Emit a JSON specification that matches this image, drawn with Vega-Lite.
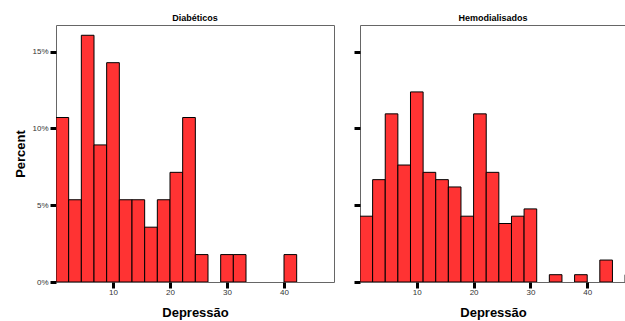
{
  "$schema": "https://vega.github.io/schema/vega-lite/v6.json",
  "padding": {"left": 14, "top": 13, "right": 0, "bottom": 0},
  "background": "white",
  "spacing": 17,
  "config": {
    "font": "Liberation Sans",
    "view": {"stroke": "#666666", "strokeWidth": 1},
    "axis": {"grid": false, "domain": false, "tickColor": "black", "tickWidth": 3, "tickSize": 6, "labelFont": "Liberation Sans", "labelFontSize": 8, "labelColor": "#333333", "titleFont": "Liberation Sans", "titleFontSize": 13, "titleFontWeight": "bold", "titleColor": "black"},
    "title": {"font": "Liberation Sans", "fontSize": 9, "fontWeight": "bold", "color": "black", "offset": 2}
  },
  "datasets": {
    "hist": [
      {"panel": "Diabéticos", "lo": 0, "hi": 2.2222, "pct": 10.714},
      {"panel": "Diabéticos", "lo": 2.2222, "hi": 4.4444, "pct": 5.357},
      {"panel": "Diabéticos", "lo": 4.4444, "hi": 6.6667, "pct": 16.071},
      {"panel": "Diabéticos", "lo": 6.6667, "hi": 8.8889, "pct": 8.929},
      {"panel": "Diabéticos", "lo": 8.8889, "hi": 11.1111, "pct": 14.286},
      {"panel": "Diabéticos", "lo": 11.1111, "hi": 13.3333, "pct": 5.357},
      {"panel": "Diabéticos", "lo": 13.3333, "hi": 15.5556, "pct": 5.357},
      {"panel": "Diabéticos", "lo": 15.5556, "hi": 17.7778, "pct": 3.571},
      {"panel": "Diabéticos", "lo": 17.7778, "hi": 20, "pct": 5.357},
      {"panel": "Diabéticos", "lo": 20, "hi": 22.2222, "pct": 7.143},
      {"panel": "Diabéticos", "lo": 22.2222, "hi": 24.4444, "pct": 10.714},
      {"panel": "Diabéticos", "lo": 24.4444, "hi": 26.6667, "pct": 1.786},
      {"panel": "Diabéticos", "lo": 28.8889, "hi": 31.1111, "pct": 1.786},
      {"panel": "Diabéticos", "lo": 31.1111, "hi": 33.3333, "pct": 1.786},
      {"panel": "Diabéticos", "lo": 40, "hi": 42.2222, "pct": 1.786},
      {"panel": "Hemodialisados", "lo": 0, "hi": 2.2222, "pct": 4.286},
      {"panel": "Hemodialisados", "lo": 2.2222, "hi": 4.4444, "pct": 6.667},
      {"panel": "Hemodialisados", "lo": 4.4444, "hi": 6.6667, "pct": 10.952},
      {"panel": "Hemodialisados", "lo": 6.6667, "hi": 8.8889, "pct": 7.619},
      {"panel": "Hemodialisados", "lo": 8.8889, "hi": 11.1111, "pct": 12.381},
      {"panel": "Hemodialisados", "lo": 11.1111, "hi": 13.3333, "pct": 7.143},
      {"panel": "Hemodialisados", "lo": 13.3333, "hi": 15.5556, "pct": 6.667},
      {"panel": "Hemodialisados", "lo": 15.5556, "hi": 17.7778, "pct": 6.190},
      {"panel": "Hemodialisados", "lo": 17.7778, "hi": 20, "pct": 4.286},
      {"panel": "Hemodialisados", "lo": 20, "hi": 22.2222, "pct": 10.952},
      {"panel": "Hemodialisados", "lo": 22.2222, "hi": 24.4444, "pct": 7.143},
      {"panel": "Hemodialisados", "lo": 24.4444, "hi": 26.6667, "pct": 3.810},
      {"panel": "Hemodialisados", "lo": 26.6667, "hi": 28.8889, "pct": 4.286},
      {"panel": "Hemodialisados", "lo": 28.8889, "hi": 31.1111, "pct": 4.762},
      {"panel": "Hemodialisados", "lo": 33.3333, "hi": 35.5556, "pct": 0.476},
      {"panel": "Hemodialisados", "lo": 37.7778, "hi": 40, "pct": 0.476},
      {"panel": "Hemodialisados", "lo": 42.2222, "hi": 44.4444, "pct": 1.429},
      {"panel": "Hemodialisados", "lo": 46.6667, "hi": 48.8889, "pct": 0.476}
    ]
  },
  "hconcat": [
    {
      "title": "Diabéticos",
      "width": 278,
      "height": 257,
      "data": {"name": "hist"},
      "transform": [{"filter": "datum.panel === 'Diabéticos'"}],
      "mark": {"type": "bar", "fill": "#FF3333", "stroke": "black", "strokeWidth": 1, "clip": true},
      "encoding": {
        "x": {"field": "lo", "type": "quantitative", "scale": {"domain": [0, 48.77], "nice": false, "zero": false}, "axis": {"values": [10, 20, 30, 40], "title": "Depressão", "titlePadding": 10, "labelPadding": 0}},
        "x2": {"field": "hi"},
        "y": {"field": "pct", "type": "quantitative", "scale": {"domain": [0, 16.74], "nice": false}, "axis": {"values": [0, 5, 10, 15], "labelExpr": "datum.value + '%'", "title": "Percent", "titlePadding": 4, "labelPadding": 2}},
        "y2": {"datum": 0}
      }
    },
    {
      "title": "Hemodialisados",
      "width": 266,
      "height": 257,
      "data": {"name": "hist"},
      "transform": [{"filter": "datum.panel === 'Hemodialisados'"}],
      "mark": {"type": "bar", "fill": "#FF3333", "stroke": "black", "strokeWidth": 1, "clip": true},
      "encoding": {
        "x": {"field": "lo", "type": "quantitative", "scale": {"domain": [0, 46.83], "nice": false, "zero": false}, "axis": {"values": [10, 20, 30, 40], "title": "Depressão", "titlePadding": 10, "labelPadding": 0}},
        "x2": {"field": "hi"},
        "y": {"field": "pct", "type": "quantitative", "scale": {"domain": [0, 16.74], "nice": false}, "axis": {"values": [0, 5, 10, 15], "labels": false, "title": null}},
        "y2": {"datum": 0}
      }
    }
  ]
}
